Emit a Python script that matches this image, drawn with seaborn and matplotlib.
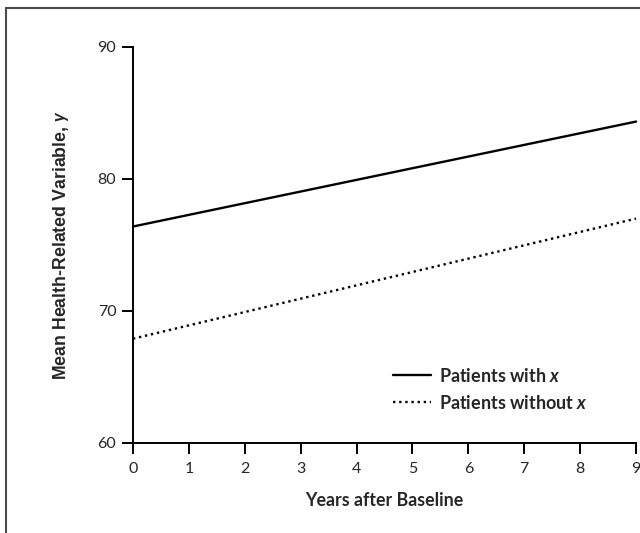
import matplotlib
matplotlib.use("Agg")
import matplotlib.pyplot as plt
import seaborn as sns
import pandas as pd
from matplotlib.lines import Line2D
from matplotlib import font_manager as fm

years = [0, 9]
with_x = [76.4, 84.35]
without_x = [67.9, 77.0]
series_names = ["Patients with $x$", "Patients without $x$"]
x_ticks = [0, 1, 2, 3, 4, 5, 6, 7, 8, 9]
y_ticks = [60, 70, 80, 90]

sns.set_theme(style="ticks")
plt.rcParams['font.family'] = ['Lato', 'DejaVu Sans']
plt.rcParams['mathtext.fontset'] = 'custom'
plt.rcParams['mathtext.it'] = 'Lato:bold:italic'
plt.rcParams['mathtext.rm'] = 'Lato:bold'

# find regular-width Liberation Sans Bold for the y label
ylab_fp = None
for f in fm.fontManager.ttflist:
    if f.name == "Liberation Sans" and f.weight in (700, "bold") and f.style == "normal" \
            and "Narrow" not in f.fname:
        ylab_fp = fm.FontProperties(fname=f.fname, size=12.8)
        break
if ylab_fp is None:
    ylab_fp = fm.FontProperties(family=["Roboto", "DejaVu Sans"], weight="bold", size=13.5)

df = pd.DataFrame({
    "Year": years + years,
    "Value": with_x + without_x,
    "Group": [series_names[0]] * len(years) + [series_names[1]] * len(years),
})

fig = plt.figure(figsize=(6.4, 5.33), dpi=100)
ax = fig.add_axes([133/640, 1 - 443/533, (636-133)/640, (443-47)/533])

sns.lineplot(data=df, x="Year", y="Value", hue="Group", style="Group",
             palette={series_names[0]: "black", series_names[1]: "black"},
             dashes={series_names[0]: "", series_names[1]: (1, 1.6)},
             linewidth=1.7, ax=ax, legend=False, clip_on=False)

ax.set_xlim(0, 9)
ax.set_ylim(60, 90)
ax.set_xticks(x_ticks)
ax.set_yticks(y_ticks)
for s in ["top", "right"]:
    ax.spines[s].set_visible(False)
for s in ["left", "bottom"]:
    ax.spines[s].set_linewidth(1.4)
    ax.spines[s].set_color("black")
ax.tick_params(axis="both", length=8, width=1.4, color="black", labelsize=11.5, direction="out")
ax.tick_params(axis="x", pad=6)
ax.tick_params(axis="y", pad=4)

ax.set_xlabel("Years after Baseline", fontsize=12.8, fontweight="bold", labelpad=11)
ax.set_ylabel("Mean Health-Related Variable, $y$", fontproperties=ylab_fp, labelpad=19)

handles = [Line2D([], [], color="black", lw=1.7),
           Line2D([], [], color="black", lw=1.7, linestyle=(0, (1, 1.6)))]
leg = ax.legend(handles, series_names, loc="center left", bbox_to_anchor=(0.499, 0.136),
                frameon=False, borderpad=0, handlelength=2.1, handletextpad=0.45,
                labelspacing=0.5, prop={"weight": "bold", "size": 13})

# partial frame (top and left)
fig.add_artist(Line2D([6/640, 1], [1 - 8/533, 1 - 8/533], transform=fig.transFigure, color="#4a4a4a", lw=1.5))
fig.add_artist(Line2D([6/640, 6/640], [0, 1 - 8/533], transform=fig.transFigure, color="#4a4a4a", lw=1.5))

fig.savefig("out.png", dpi=100)
